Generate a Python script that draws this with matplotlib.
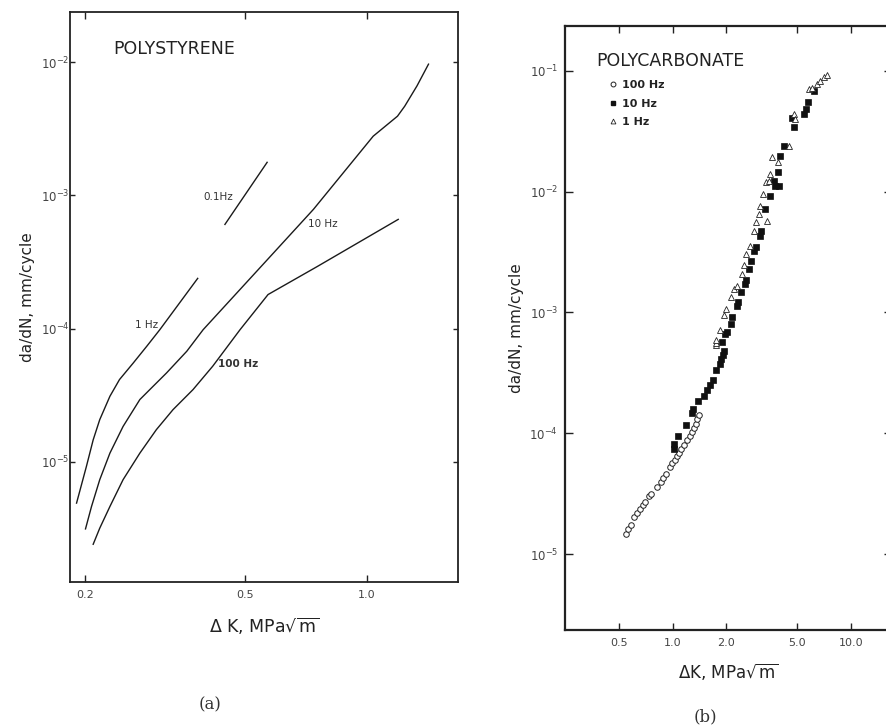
import matplotlib
matplotlib.use("Agg")
import matplotlib.pyplot as plt
from matplotlib.ticker import FixedLocator, FixedFormatter, NullLocator
from matplotlib.lines import Line2D

plt.rcParams['font.family'] = ['DejaVu Sans']
plt.rcParams['mathtext.fontset'] = 'dejavusans'

# ---------------- Panel (a): Polystyrene ----------------
ps_1hz_dk = [0.191, 0.202, 0.210, 0.218, 0.231, 0.244, 0.264, 0.285, 0.307, 0.381]
ps_1hz_rate = [4.89e-6, 9.2e-6, 1.46e-5, 2.07e-5, 3.1e-5, 4.14e-5, 5.52e-5, 7.36e-5, 9.8e-5, 2.38e-4]

ps_10hz_dk = [0.201, 0.208, 0.218, 0.231, 0.249, 0.274, 0.290, 0.319, 0.358, 0.393,
              0.576, 0.737, 1.036, 1.19, 1.24, 1.33, 1.42]
ps_10hz_rate = [3.13e-6, 4.61e-6, 7.33e-6, 1.16e-5, 1.84e-5, 2.93e-5, 3.48e-5, 4.64e-5,
                6.75e-5, 9.8e-5, 3.47e-4, 7.85e-4, 2.78e-3, 3.93e-3, 4.67e-3, 6.64e-3, 9.66e-3]

ps_100hz_dk = [0.210, 0.218, 0.231, 0.249, 0.274, 0.301, 0.331, 0.371, 0.415, 0.485,
               0.569, 0.753, 1.195]
ps_100hz_rate = [2.40e-6, 3.17e-6, 4.61e-6, 7.33e-6, 1.16e-5, 1.74e-5, 2.46e-5, 3.48e-5,
                 5.21e-5, 9.8e-5, 1.8e-4, 2.92e-4, 6.6e-4]

ps_01hz_dk = [0.445, 0.566]
ps_01hz_rate = [6.05e-4, 1.77e-3]

ps_xticks = [0.2, 0.5, 1.0]
ps_xticklabels = ["0.2", "0.5", "1.0"]
ps_yticks = [1e-5, 1e-4, 1e-3, 1e-2]
ps_yticklabels = [r"$10^{-5}$", r"$10^{-4}$", r"$10^{-3}$", r"$10^{-2}$"]

# ---------------- Panel (b): Polycarbonate ----------------
pc_100hz_dk = [0.546, 0.562, 0.582, 0.608, 0.635, 0.656, 0.679, 0.698, 0.738, 0.760,
               0.821, 0.857, 0.887, 0.914, 0.966, 0.996, 1.026, 1.053, 1.084, 1.119,
               1.157, 1.208, 1.245, 1.288, 1.315, 1.344, 1.374, 1.410]
pc_100hz_rate = [1.46e-5, 1.60e-5, 1.74e-5, 2.01e-5, 2.17e-5, 2.34e-5, 2.54e-5, 2.71e-5,
                 3.01e-5, 3.13e-5, 3.60e-5, 3.96e-5, 4.22e-5, 4.56e-5, 5.27e-5, 5.69e-5,
                 6.05e-5, 6.45e-5, 6.87e-5, 7.47e-5, 7.96e-5, 8.75e-5, 9.44e-5, 1.03e-4,
                 1.11e-4, 1.20e-4, 1.32e-4, 1.41e-4]

pc_10hz_dk = [1.017, 1.017, 1.076, 1.192, 1.288, 1.305, 1.385, 1.497, 1.562, 1.616,
              1.687, 1.739, 1.837, 1.878, 1.920, 1.935, 1.895, 1.953, 2.02, 2.13,
              2.14, 2.30, 2.32, 2.42, 2.53, 2.56, 2.67, 2.73, 2.85, 2.94,
              3.07, 3.13, 3.31, 3.53, 3.76, 3.92, 3.68, 3.88, 4.01, 4.19,
              4.80, 4.66, 5.42, 5.58, 5.73, 6.21]
pc_10hz_rate = [7.47e-5, 8.22e-5, 9.45e-5, 1.18e-4, 1.46e-4, 1.58e-4, 1.85e-4, 2.03e-4, 2.26e-4, 2.49e-4,
                2.78e-4, 3.32e-4, 3.77e-4, 4.14e-4, 4.42e-4, 4.79e-4, 5.69e-4, 6.67e-4, 6.87e-4, 8.07e-4,
                9.14e-4, 1.14e-3, 1.22e-3, 1.47e-3, 1.73e-3, 1.84e-3, 2.30e-3, 2.69e-3, 3.25e-3, 3.47e-3,
                4.33e-3, 4.76e-3, 7.2e-3, 9.27e-3, 1.12e-2, 1.12e-2, 1.23e-2, 1.44e-2, 1.99e-2, 2.40e-2,
                3.44e-2, 4.06e-2, 4.38e-2, 4.82e-2, 5.47e-2, 6.75e-2]

pc_1hz_dk = [1.74, 1.74, 1.76, 1.85, 1.95, 1.98, 2.11, 2.20, 2.28, 2.45, 2.50, 2.59,
             2.70, 2.85, 2.94, 3.38, 3.03, 3.07, 3.21, 3.35, 3.45, 3.53, 3.61, 3.88,
             4.47, 4.80, 4.87, 5.78, 6.03, 6.43, 6.71, 7.00, 7.31]
pc_1hz_rate = [5.33e-4, 5.55e-4, 5.87e-4, 7.1e-4, 9.44e-4, 1.07e-3, 1.34e-3, 1.57e-3, 1.67e-3,
               2.09e-3, 2.45e-3, 3.05e-3, 3.58e-3, 4.76e-3, 5.58e-3, 5.75e-3, 6.55e-3, 7.66e-3,
               9.57e-3, 1.19e-2, 1.23e-2, 1.40e-2, 1.95e-2, 1.75e-2, 2.40e-2, 4.38e-2, 3.99e-2,
               7.06e-2, 7.2e-2, 7.76e-2, 8.27e-2, 8.81e-2, 9.27e-2]

pc_xticks = [0.5, 1.0, 2.0, 5.0, 10.0]
pc_xticklabels = ["0.5", "1.0", "2.0", "5.0", "10.0"]
pc_yticks = [1e-5, 1e-4, 1e-3, 1e-2, 1e-1]
pc_yticklabels = [r"$10^{-5}$", r"$10^{-4}$", r"$10^{-3}$", r"$10^{-2}$", r"$10^{-1}$"]

W, H = 886, 726
fig = plt.figure(figsize=(W / 100, H / 100), dpi=100)


def px_axes(l, t, r, b):
    return fig.add_axes([l / W, 1 - b / H, (r - l) / W, (b - t) / H])


def style_axes(ax, xticks, xlabels, yticks, ylabels, lw, ytick_len, ytick_pad):
    ax.set_xscale('log')
    ax.set_yscale('log')
    ax.xaxis.set_major_locator(FixedLocator(xticks))
    ax.xaxis.set_major_formatter(FixedFormatter(xlabels))
    ax.yaxis.set_major_locator(FixedLocator(yticks))
    ax.yaxis.set_major_formatter(FixedFormatter(ylabels))
    ax.xaxis.set_minor_locator(NullLocator())
    ax.yaxis.set_minor_locator(NullLocator())
    for s in ax.spines.values():
        s.set_linewidth(lw)
        s.set_color('#222222')
    ax.tick_params(axis='x', which='major', direction='in', top=True, bottom=True,
                   length=5, width=1.0, labelsize=8, pad=6, colors='#222222',
                   labelcolor='#444444')
    ax.tick_params(axis='y', which='major', direction='in', left=True, right=True,
                   length=ytick_len, width=1.0, labelsize=8.5, pad=ytick_pad,
                   colors='#222222', labelcolor='#444444')


# ---- Panel (a)
axa = px_axes(70, 12, 458, 582)
axa.set_xlim(0.184, 1.68)
axa.set_ylim(1.25e-6, 0.0238)
style_axes(axa, ps_xticks, ps_xticklabels, ps_yticks, ps_yticklabels, 1.3, 3.5, 0.5)
lc = '#1a1a1a'
for dk, r in [(ps_1hz_dk, ps_1hz_rate), (ps_10hz_dk, ps_10hz_rate),
              (ps_100hz_dk, ps_100hz_rate), (ps_01hz_dk, ps_01hz_rate)]:
    axa.plot(dk, r, color=lc, lw=1.0)

axa.text(0.235, 0.0125, "POLYSTYRENE", fontsize=12.5, va='center', ha='left', color='#222222')
axa.text(0.393, 9.8e-4, "0.1Hz", fontsize=7.5, va='center', ha='left', color='#333333')
axa.text(0.715, 6.05e-4, "10 Hz", fontsize=7.5, va='center', ha='left', color='#333333')
axa.text(0.266, 1.07e-4, "1 Hz", fontsize=7.5, va='center', ha='left', color='#333333')
axa.text(0.428, 5.37e-5, "100 Hz", fontsize=7.5, va='center', ha='left', color='#333333',
         fontweight='bold')
axa.set_ylabel("da/dN, mm/cycle", fontsize=11, color='#222222', labelpad=4)
axa.set_xlabel(r"$\Delta$ K, MPa$\sqrt{\mathrm{m}}$", fontsize=12.5, color='#222222', labelpad=11)
fig.text(210 / W, 1 - 705 / H, "(a)", fontsize=12, family='DejaVu Serif',
         ha='center', va='center', color='#333333')

# ---- Panel (b)
axb = px_axes(565, 26, 892, 630)
axb.set_xlim(0.25, 16.9)
axb.set_ylim(2.35e-6, 0.235)
style_axes(axb, pc_xticks, pc_xticklabels, pc_yticks, pc_yticklabels, 1.6, 6, 5)

axb.plot(pc_100hz_dk, pc_100hz_rate, ls='none', marker='o', ms=4, mfc='white',
         mec='#222222', mew=0.7)
axb.plot(pc_10hz_dk, pc_10hz_rate, ls='none', marker='s', ms=3.8, mfc='#111111',
         mec='#111111', mew=0.5)
axb.plot(pc_1hz_dk, pc_1hz_rate, ls='none', marker='^', ms=4, mfc='white',
         mec='#222222', mew=0.6)

axb.text(0.376, 0.121, "POLYCARBONATE", fontsize=12.5, va='center', ha='left', color='#222222')
handles = [
    Line2D([], [], ls='none', marker='o', ms=3.5, mfc='white', mec='#222222', mew=0.7),
    Line2D([], [], ls='none', marker='s', ms=3.5, mfc='#111111', mec='#111111'),
    Line2D([], [], ls='none', marker='^', ms=3.5, mfc='white', mec='#222222', mew=0.6),
]
leg = axb.legend(handles, ["100 Hz", "10 Hz", "1 Hz"], loc='upper left',
                 bbox_to_anchor=(0.131, 0.91), frameon=False, fontsize=8,
                 handlelength=1.0, handletextpad=0.3, labelspacing=0.75,
                 borderpad=0, borderaxespad=0)
for t in leg.get_texts():
    t.set_fontweight('bold')
    t.set_color('#222222')
axb.set_ylabel("da/dN, mm/cycle", fontsize=11, color='#222222', labelpad=4)
axb.set_xlabel(r"$\Delta$K, MPa$\sqrt{\mathrm{m}}$", fontsize=12, color='#222222', labelpad=9)
fig.text(705 / W, 1 - 717 / H, "(b)", fontsize=12, family='DejaVu Serif',
         ha='center', va='center', color='#333333')

fig.savefig("out.png", dpi=100, facecolor='white')
